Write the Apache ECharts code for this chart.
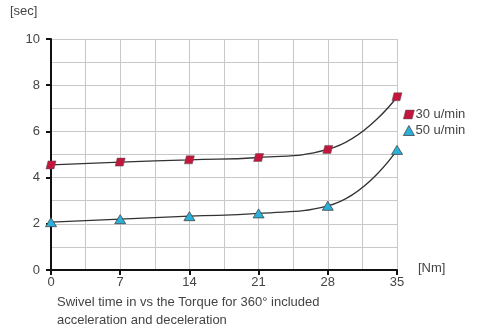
<!DOCTYPE html>
<html><head><meta charset="utf-8">
<script src="https://cdn.jsdelivr.net/npm/echarts@6/dist/echarts.min.js"></script>
<style>html,body{margin:0;padding:0;background:#fff}#c{width:490px;height:331px}</style>
</head><body><div id="c"></div>
<script>
var torque = [0, 7, 14, 21, 28, 35];
var s30 = [4.55, 4.67, 4.77, 4.87, 5.22, 7.5];
var s50 = [2.07, 2.2, 2.33, 2.45, 2.78, 5.2];
var seriesNames = ['30 u/min', '50 u/min'];
var xTicks = [0, 7, 14, 21, 28, 35];
var yTicks = [0, 2, 4, 6, 8, 10];

var font = 'Liberation Sans';
var para = 'path://M2,0 L10,0 L8,8 L0,8 Z';
var chart = echarts.init(document.getElementById('c'), null, {renderer: 'canvas'});
function pairs(v){ return torque.map(function(t,i){return [t, v[i]];}); }
chart.setOption({
  animation: false,
  textStyle: {fontFamily: font},
  grid: {left: 51, right: 93, top: 39, bottom: 61},
  xAxis: {
    type: 'value', min: 0, max: 35, interval: 7,
    axisLine: {show: true, onZero: false, lineStyle: {color: '#111', width: 2}},
    axisTick: {show: true, length: 5, lineStyle: {color: '#111', width: 2}},
    axisLabel: {color: '#444', fontSize: 13, margin: 6, fontFamily: font},
    splitLine: {show: true, lineStyle: {color: '#c8c8c8', width: 1}},
    minorTick: {show: false, splitNumber: 2},
    minorSplitLine: {show: true, lineStyle: {color: '#c8c8c8', width: 1}}
  },
  yAxis: {
    type: 'value', min: 0, max: 10, interval: 2,
    axisLine: {show: true, lineStyle: {color: '#111', width: 2}},
    axisTick: {show: true, length: 5, lineStyle: {color: '#111', width: 2}},
    axisLabel: {color: '#444', fontSize: 13, margin: 11, fontFamily: font},
    splitLine: {show: true, lineStyle: {color: '#c8c8c8', width: 1}},
    minorTick: {show: false, splitNumber: 2},
    minorSplitLine: {show: true, lineStyle: {color: '#c8c8c8', width: 1}}
  },
  legend: {
    orient: 'vertical', left: 398, top: 103, itemGap: 3,
    itemWidth: 11, itemHeight: 10,
    textStyle: {color: '#444', fontSize: 13, fontFamily: font, padding: [0,0,0,-4]},
    data: [
      {name: seriesNames[0], icon: para, itemStyle: {color: '#c2163d', borderColor: '#555', borderWidth: 0.5}},
      {name: seriesNames[1], icon: 'triangle', itemStyle: {color: '#29b1dc', borderColor: '#444', borderWidth: 0.8}}
    ]
  },
  graphic: [
    {type: 'text', left: 10, top: 5, style: {text: '[sec]', fill: '#444', font: '13px ' + font}},
    {type: 'text', left: 418, top: 262, style: {text: '[Nm]', fill: '#444', font: '13px ' + font}},
    {type: 'text', left: 57, top: 293, style: {text: 'Swivel time in vs the Torque for 360° included\nacceleration and deceleration', fill: '#444', font: '13px ' + font, lineHeight: 18}}
  ],
  series: [
    {name: seriesNames[0], type: 'line', data: pairs(s30), smooth: 0.5,
     symbol: para, symbolSize: [10, 8],
     lineStyle: {color: '#333', width: 1.3},
     itemStyle: {color: '#c2163d', borderColor: '#555', borderWidth: 0.5}},
    {name: seriesNames[1], type: 'line', data: pairs(s50), smooth: 0.5,
     symbol: 'triangle', symbolSize: [11, 9],
     lineStyle: {color: '#333', width: 1.3},
     itemStyle: {color: '#29b1dc', borderColor: '#444', borderWidth: 0.8}}
  ]
});
</script></body></html>
